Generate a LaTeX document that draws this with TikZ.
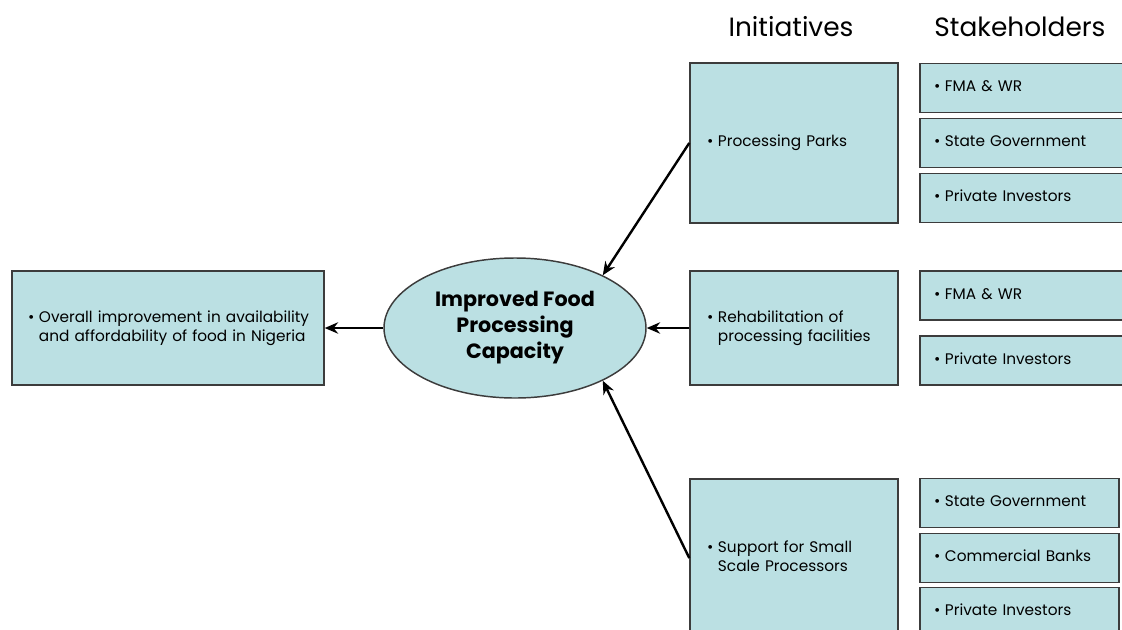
\documentclass[tikz,border=0pt]{standalone}
\usepackage{fontspec}
\setmainfont{Poppins}
\usetikzlibrary{arrows.meta,shapes.geometric}

\definecolor{boxfill}{RGB}{187,224,227}
\definecolor{boxline}{RGB}{60,60,60}

\newcommand{\bitem}[1]{\textbullet\hspace{3.5pt}\begin{tabular}[t]{@{}l@{}}#1\end{tabular}}

\tikzset{every picture/.style={line width=0.75pt}}
\tikzset{
  panel/.style={draw=boxline, fill=boxfill, line width=1.1pt, rectangle, align=left, font=\fontsize{11.5}{14}\selectfont},
  initbox/.style={panel, text width=130.5pt, inner xsep=12.75pt, minimum height=#1},
  holderbox/.style={panel, text width=#1, inner xsep=10.5pt, minimum height=37pt},
  goal/.style={draw=boxline, fill=boxfill, line width=1.1pt, ellipse, inner sep=0pt, minimum width=196.5pt, minimum height=105pt, align=center, font=\fontsize{15.5}{19.5}\selectfont\bfseries},
  head/.style={font=\fontsize{19.8}{24}\selectfont},
  feed/.style={line width=1.8pt, -{Stealth[length=10pt,width=8.5pt]}}
}

\begin{document}
\begin{tikzpicture}[x=0.75pt,y=0.75pt,yscale=-1,xscale=1]
\useasboundingbox (0,0) rectangle (1122,629);

% Headers
\draw (791,27) node [head] (hinit) {Initiatives};
\draw (1020,27) node [head] (hhold) {Stakeholders};

% Outcome
\draw (168,328) node [panel, text width=216pt, inner xsep=9pt, minimum height=85.5pt] (outcome) {\hspace*{3pt}\bitem{Overall improvement in availability\\and affordability of food in Nigeria}};

% Goal
\draw (515,328) node [goal] (cap) {Improved Food\\Processing\\Capacity};

% Initiatives
\draw (794,143) node [initbox=120pt] (parks) {\bitem{Processing Parks}};
\draw (794,328) node [initbox=85.5pt] (rehab) {\bitem{Rehabilitation of\\processing facilities}};
\draw (794,558) node [initbox=118.5pt] (small) {\bitem{Support for Small\\Scale Processors}};

% Stakeholders of processing parks
\draw (1023,88) node [holderbox=133.5pt] (fma1) {\bitem{FMA \& WR}};
\draw (1023,143) node [holderbox=133.5pt] (state1) {\bitem{State Government}};
\draw (1023,198) node [holderbox=133.5pt] (priv1) {\bitem{Private Investors}};

% Stakeholders of rehabilitation
\draw (1023,295.5) node [holderbox=133.5pt] (fma2) {\bitem{FMA \& WR}};
\draw (1023,360.5) node [holderbox=133.5pt] (priv2) {\bitem{Private Investors}};

% Stakeholders of small scale support
\draw (1019.5,503) node [holderbox=128.25pt] (state3) {\bitem{State Government}};
\draw (1019.5,558) node [holderbox=128.25pt] (bank3) {\bitem{Commercial Banks}};
\draw (1019.5,612) node [holderbox=128.25pt] (priv3) {\bitem{Private Investors}};

% Arrows
\draw [feed] (parks.west) -- (cap.31);
\draw [feed] (rehab.west) -- (cap.east);
\draw [feed] (small.west) -- (cap.-31);
\draw [feed] (cap.west) -- (outcome.east);

\end{tikzpicture}
\end{document}
